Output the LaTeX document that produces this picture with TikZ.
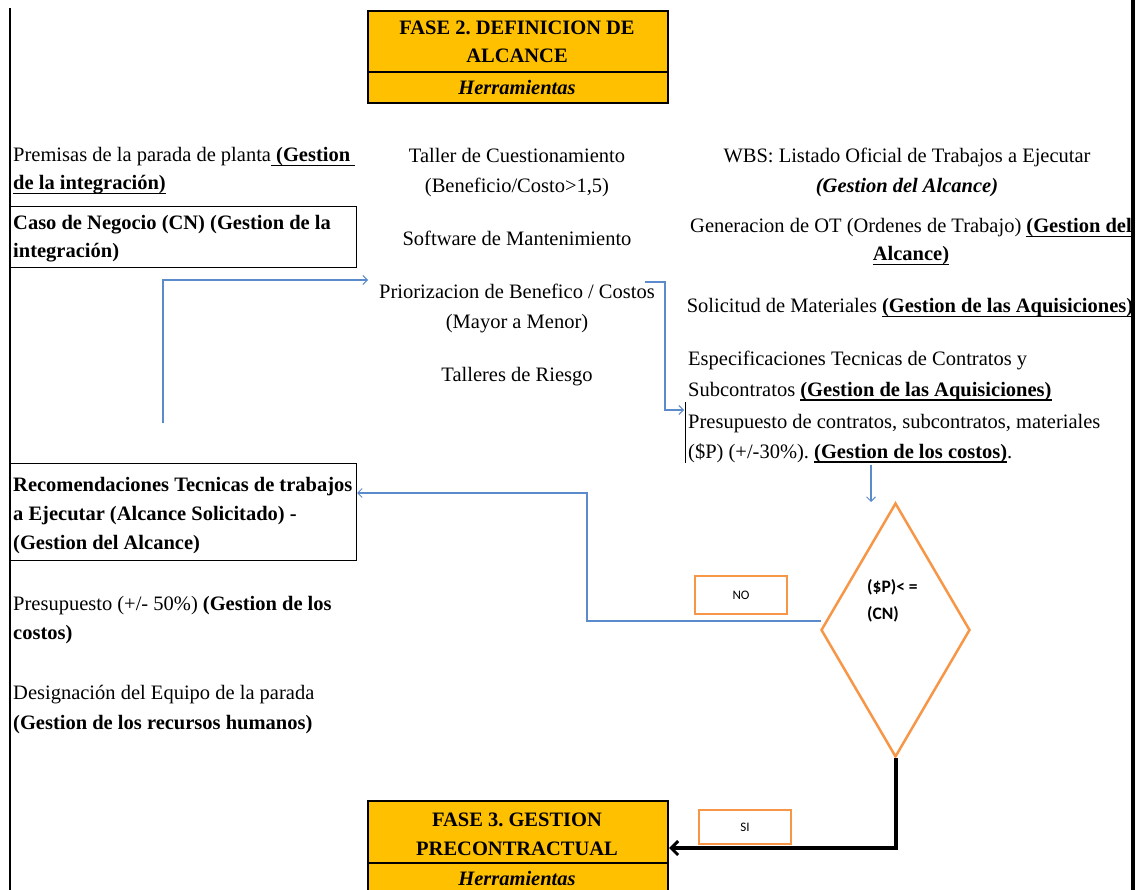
\documentclass[tikz,border=0pt]{standalone}
\usepackage{fontspec}
\setmainfont{Liberation Serif}
\newfontfamily\calibri{Carlito}
\usetikzlibrary{arrows.meta,shapes.geometric}

\definecolor{faseorange}{HTML}{FFC000}
\definecolor{linkblue}{HTML}{5B8BCB}
\definecolor{decorange}{HTML}{F79646}

% underline with a rule that scales with the text size
\newcommand{\myul}[1]{\setbox0=\hbox{#1}\rlap{\rule[-4.5pt]{\wd0}{1.5pt}}\box0}
\frenchspacing

\begin{document}
\begin{tikzpicture}[x=1pt,y=-1pt,
  txt/.style={inner sep=0pt, anchor=base, font=\fontsize{20.5}{27}\selectfont},
  ltxt/.style={txt, anchor=base west},
  btxt/.style={txt, font=\fontsize{20.5}{27}\selectfont\bfseries},
  lbtxt/.style={btxt, anchor=base west},
  framebox/.style={draw, line width=1.2pt, anchor=north west, inner sep=0pt, minimum width=346pt},
  fasebox/.style={draw, fill=faseorange, line width=1.6pt, anchor=north west, inner sep=0pt, minimum width=300pt},
  link/.style={draw=linkblue, line width=1.1pt, -{Straight Barb[length=4.5pt,width=9pt,line width=1pt]}},
  tag/.style={draw=decorange, line width=2pt, anchor=north west, inner sep=0pt, minimum width=92pt},
  tagtxt/.style={inner sep=0pt, font=\calibri\fontsize{13}{15}\selectfont},
]
\useasboundingbox (0,0) rectangle (1137,890);

% page frame lines
\draw[line width=1.2pt] (10,8) -- (10,890);
\draw[line width=4pt] (1133,0) -- (1133,890);

% phase headers
\node[fasebox, minimum height=61pt] (f2a) at (367,10) {};
\node[fasebox, minimum height=31pt] (f2b) at (367,71) {};
\node[btxt] (f2t1) at (517,35) {FASE 2. DEFINICION DE};
\node[btxt] (f2t2) at (517,63) {ALCANCE};
\node[btxt] (f2t3) at (517,95) {\itshape Herramientas};

\node[fasebox, minimum height=62pt] (f3a) at (367,800) {};
\node[fasebox, minimum height=40pt] (f3b) at (367,862) {};
\node[btxt] (f3t1) at (517,826) {FASE 3. GESTION};
\node[btxt] (f3t2) at (517,855) {PRECONTRACTUAL};
\node[btxt] (f3t3) at (517,885) {\itshape Herramientas};

% left column
\node[ltxt] (prem1) at (13,162) {Premisas de la parada de planta\myul{\textbf{\ (Gestion\ }}};
\node[ltxt] (prem2) at (13,190) {\myul{\textbf{de la integración)}}};

\node[framebox, minimum height=61pt] (cn) at (10,206) {};
\node[lbtxt] (cn1) at (13,230) {Caso de Negocio (CN) (Gestion de la};
\node[lbtxt] (cn2) at (13,258) {integración)};

\node[framebox, minimum height=97pt] (rec) at (10,463) {};
\node[lbtxt] (rec1) at (13,491) {Recomendaciones Tecnicas de trabajos};
\node[lbtxt] (rec2) at (13,520) {a Ejecutar (Alcance Solicitado) -};
\node[lbtxt] (rec3) at (13,549) {(Gestion del Alcance)};

\node[ltxt] (pre1) at (13,610) {Presupuesto (+/- 50\%) \textbf{(Gestion de los}};
\node[lbtxt] (pre2) at (13,639) {costos)};
\node[ltxt] (des1) at (13,699) {Designación del Equipo de la parada};
\node[lbtxt] (des2) at (13,729) {(Gestion de los recursos humanos)};

% middle column
\node[txt] (tal1) at (517,163) {Taller de Cuestionamiento};
\node[txt] (tal2) at (517,193) {(Beneficio/Costo>1,5)};
\node[txt] (soft) at (517,246) {Software de Mantenimiento};
\node[txt] (prio1) at (517,299) {Priorizacion de Benefico / Costos};
\node[txt] (prio2) at (517,329) {(Mayor a Menor)};
\node[txt] (ries) at (517,381) {Talleres de Riesgo};

% right column
\node[txt] (wbs1) at (907,163) {WBS: Listado Oficial de Trabajos a Ejecutar};
\node[txt] (wbs2) at (907,193) {\textbf{\textit{(Gestion del Alcance)}}};
\node[txt] (ot1) at (911,233) {Generacion de OT (Ordenes de Trabajo) \myul{\textbf{(Gestion del}}};
\node[txt] (ot2) at (911,261) {\myul{\textbf{Alcance)}}};
\node[txt] (mat) at (910,313) {Solicitud de Materiales \myul{\textbf{(Gestion de las Aquisiciones)}}};
\node[ltxt] (esp1) at (688,365) {Especificaciones Tecnicas de Contratos y};
\node[ltxt] (esp2) at (688,396) {Subcontratos \myul{\textbf{(Gestion de las Aquisiciones)}}};
\node[ltxt] (ppc1) at (688,428) {Presupuesto de contratos, subcontratos, materiales};
\node[ltxt] (ppc2) at (688,458) {(\$P) (+/-30\%). \myul{\textbf{(Gestion de los costos)}}.};
\draw[line width=0.8pt] (685,402) -- (685,463);

% decision
\node[diamond, draw=decorange, line width=2.5pt, inner sep=0pt,
      minimum width=149pt, minimum height=254pt] (dec) at (895.5,630) {};
\node[inner sep=0pt, anchor=base west, font=\calibri\bfseries\fontsize{17.5}{20}\selectfont] (dq1) at (867,592) {(\$P)< =};
\node[inner sep=0pt, anchor=base west, font=\calibri\bfseries\fontsize{17.5}{20}\selectfont] (dq2) at (867,619) {(CN)};

\node[tag, minimum height=38pt] (no) at (694,575) {};
\node[tagtxt] (notxt) at (no.center) {NO};
\node[tag, minimum height=34pt] (si) at (698,809) {};
\node[tagtxt] (sitxt) at (si.center) {SI};

% connectors
\coordinate (loopstart) at (163,423);
\coordinate (prioin) at (368,280);
\coordinate (prioout) at (645,282);
\coordinate (ppcin) at (684,410);
\coordinate (ppcout) at (871,465);
\coordinate (decin) at (871,502);
\coordinate (noout) at (821,621);
\coordinate (recin) at (357,493);
\coordinate (siin) at (669,848);

\draw[link] (loopstart) |- (prioin);
\draw[link] (prioout) -- ++(20,0) |- (ppcin);
\draw[link] (ppcout) -- (decin);
\draw[link] (noout) -- ++(-234,0) |- (recin);
\draw[line width=4pt, -{Straight Barb[length=7pt,width=14pt,line width=3pt]}] (dec.south) |- (siin);
\end{tikzpicture}
\end{document}
